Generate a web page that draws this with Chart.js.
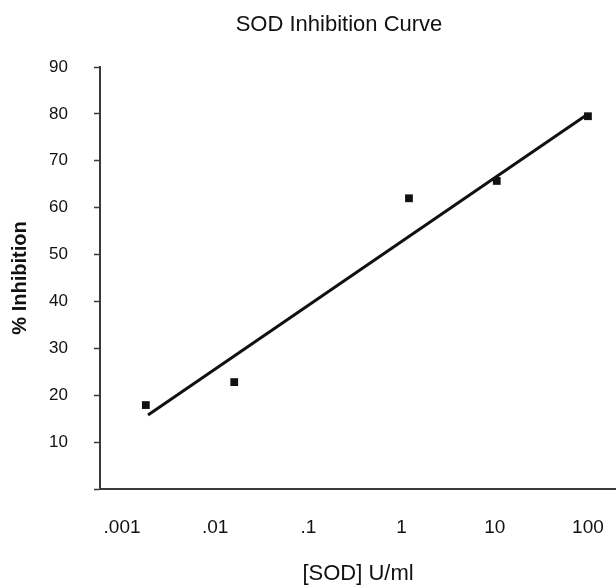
<!DOCTYPE html>
<html>
<head>
<meta charset="utf-8">
<script src="https://cdn.jsdelivr.net/npm/chart.js@4/dist/chart.umd.min.js"></script>
<style>
  body { margin: 0; background: #fff; }
  canvas { display: block; }
</style>
</head>
<body>
<canvas id="sod_chart" width="616" height="587"></canvas>
<script>
// measured points
const sod_conc = [0.0018, 0.016, 1.2, 10.5, 100];
const pct_inhibition = [17.9, 22.8, 62.0, 65.7, 79.5];

// trend line end points
const fit_conc = [0.0019, 100];
const fit_inhibition = [15.8, 80.0];

// log axis tick values and the way the figure prints them
const x_tick_vals = [0.001, 0.01, 0.1, 1, 10, 100];
const x_tick_labels = ['.001', '.01', '.1', '1', '10', '100'];

const chart_title = 'SOD Inhibition Curve';
const x_title = '[SOD] U/ml';
const y_title = '% Inhibition';

const font_family = '"Liberation Sans", Arial, sans-serif';
const axis_color = '#3a3a3a';

function to_xy(xs, ys){
    let out = [];
    for(let i=0;i<xs.length;i++){
        out.push({x: xs[i], y: ys[i]});
    }
    return out;
}

// title sits off-centre in the original, so draw it ourselves
const title_plugin = {
    id: 'offset_title',
    afterDraw(chart){
        const ctx = chart.ctx;
        ctx.save();
        ctx.fillStyle = '#111';
        ctx.font = '22px ' + font_family;
        ctx.textAlign = 'center';
        ctx.textBaseline = 'middle';
        ctx.fillText(chart_title, 339, 25);
        ctx.restore();
    }
};

const chart_canvas = document.getElementById('sod_chart');
new Chart(chart_canvas, {
    type: 'scatter',
    data: {
        datasets: [
            {
                label: 'fit',
                data: to_xy(fit_conc, fit_inhibition),
                showLine: true,
                borderColor: '#111',
                borderWidth: 3,
                pointRadius: 0,
                order: 2
            },
            {
                label: 'measured',
                data: to_xy(sod_conc, pct_inhibition),
                pointStyle: 'rect',
                pointRadius: 5.5,
                backgroundColor: '#111',
                borderColor: '#111',
                borderWidth: 0,
                order: 1
            }
        ]
    },
    options: {
        responsive: false,
        animation: false,
        layout: {
            autoPadding: false,
            padding: {top: 67, left: 0, right: 0, bottom: 0}
        },
        plugins: {
            legend: {display: false},
            tooltip: {enabled: false}
        },
        scales: {
            x: {
                type: 'logarithmic',
                min: 0.00058,
                max: 200,
                afterBuildTicks: function(scale){
                    scale.ticks = x_tick_vals.map(v => ({value: v}));
                },
                afterFit: function(scale){
                    scale.height = 98;
                    scale.paddingLeft = 0;
                    scale.paddingRight = 0;
                },
                grid: {display: false, drawTicks: false},
                border: {display: true, color: axis_color, width: 2},
                ticks: {
                    autoSkip: false,
                    maxRotation: 0,
                    padding: 27,
                    color: '#111',
                    font: {family: font_family, size: 19},
                    callback: function(val, idx){
                        return x_tick_labels[idx];
                    }
                },
                title: {
                    display: true,
                    text: x_title,
                    color: '#111',
                    font: {family: font_family, size: 22},
                    padding: {top: 0, bottom: 0}
                }
            },
            y: {
                min: 0,
                max: 90,
                afterFit: function(scale){
                    scale.width = 100;
                    scale.paddingTop = 0;
                    scale.paddingBottom = 0;
                },
                grid: {
                    display: true,
                    drawOnChartArea: false,
                    drawTicks: true,
                    tickLength: 6,
                    tickWidth: 1.5,
                    tickColor: axis_color
                },
                border: {display: true, color: axis_color, width: 2},
                ticks: {
                    stepSize: 10,
                    padding: 26,
                    color: '#111',
                    font: {family: font_family, size: 17},
                    callback: function(val){
                        return val === 0 ? '' : String(val);
                    }
                },
                title: {
                    display: true,
                    text: y_title,
                    color: '#111',
                    font: {family: font_family, size: 20, weight: 'bold'},
                    padding: {top: 8, bottom: 0}
                }
            }
        }
    },
    plugins: [title_plugin]
});
</script>
</body>
</html>
